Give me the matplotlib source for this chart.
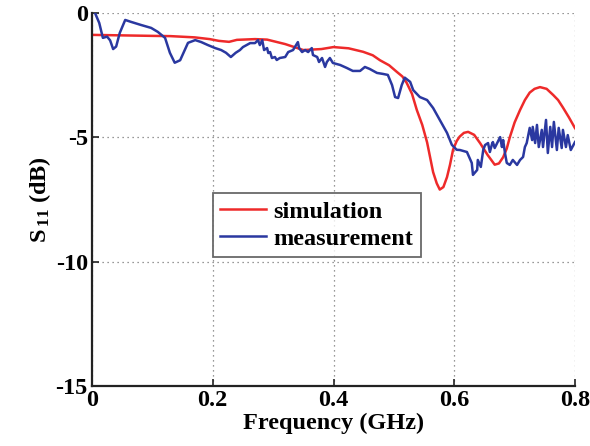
import matplotlib
matplotlib.use("Agg")
import matplotlib.pyplot as plt

# Simulation (red)
sim_f = [0.0, 0.05, 0.10, 0.13, 0.17, 0.195, 0.21, 0.227, 0.24, 0.27, 0.29, 0.32, 0.35, 0.38, 0.40,
         0.425, 0.449, 0.465, 0.477, 0.492, 0.505, 0.514, 0.521, 0.530, 0.538, 0.547, 0.555, 0.560,
         0.565, 0.571, 0.576, 0.582, 0.588, 0.593, 0.598, 0.604, 0.609, 0.616, 0.623, 0.633, 0.643,
         0.655, 0.667, 0.674, 0.681, 0.687, 0.692, 0.70, 0.709, 0.717, 0.725, 0.733, 0.742, 0.753,
         0.764, 0.772, 0.78, 0.79, 0.80]
sim_db = [-0.88, -0.9, -0.92, -0.93, -0.98, -1.05, -1.12, -1.16, -1.08, -1.05, -1.07, -1.25, -1.49, -1.45, -1.37,
          -1.42, -1.56, -1.7, -1.9, -2.1, -2.37, -2.55, -2.8, -3.25, -3.9, -4.5, -5.2, -5.8,
          -6.4, -6.85, -7.1, -7.0, -6.6, -6.1, -5.5, -5.15, -4.97, -4.82, -4.78, -4.9, -5.24,
          -5.7, -6.1, -6.05, -5.8, -5.45, -5.0, -4.4, -3.9, -3.5, -3.2, -3.05, -2.98, -3.05,
          -3.3, -3.5, -3.8, -4.2, -4.63]

# Measurement (blue)
meas_f = [0.005, 0.012, 0.018, 0.025, 0.03, 0.035, 0.04, 0.046, 0.055, 0.065, 0.081, 0.098, 0.109, 0.121,
          0.129, 0.137, 0.146, 0.159, 0.171, 0.181, 0.192, 0.204, 0.214, 0.222, 0.23, 0.238, 0.245,
          0.250, 0.262, 0.270, 0.275, 0.278, 0.282, 0.285, 0.290, 0.292, 0.295, 0.298, 0.303, 0.306,
          0.311, 0.320, 0.325, 0.333, 0.340, 0.341, 0.343, 0.348, 0.353, 0.358, 0.364, 0.366, 0.373,
          0.376, 0.381, 0.386, 0.389, 0.394, 0.399, 0.411, 0.422, 0.432, 0.444, 0.452, 0.46, 0.472,
          0.482, 0.49, 0.497, 0.502, 0.507, 0.513, 0.518, 0.527, 0.532, 0.543, 0.555, 0.565, 0.576,
          0.588, 0.596, 0.604, 0.6095, 0.621, 0.629, 0.631, 0.638, 0.639, 0.644, 0.648, 0.651, 0.656,
          0.659, 0.663, 0.664, 0.667, 0.672, 0.676, 0.679, 0.681, 0.684, 0.687, 0.692, 0.697, 0.704,
          0.709, 0.714, 0.717, 0.720, 0.725, 0.729, 0.730, 0.734, 0.737, 0.740, 0.745, 0.747, 0.752,
          0.755, 0.759, 0.762, 0.765, 0.770, 0.773, 0.778, 0.780, 0.785, 0.788, 0.793, 0.800]
meas_db = [0.0, -0.4, -1.0, -0.95, -1.1, -1.45, -1.35, -0.8, -0.28, -0.36, -0.48, -0.6, -0.76, -1.0,
           -1.6, -2.0, -1.9, -1.2, -1.09, -1.17, -1.29, -1.41, -1.49, -1.6, -1.77, -1.6, -1.49,
           -1.37, -1.21, -1.21, -1.09, -1.29, -1.09, -1.49, -1.41, -1.61, -1.57, -1.81, -1.77, -1.89,
           -1.81, -1.77, -1.57, -1.49, -1.21, -1.17, -1.41, -1.57, -1.49, -1.57, -1.41, -1.69, -1.77,
           -1.97, -1.81, -2.17, -1.97, -1.81, -2.01, -2.09, -2.21, -2.33, -2.33, -2.17, -2.25, -2.41,
           -2.45, -2.49, -2.9, -3.38, -3.42, -2.9, -2.6, -2.77, -3.1, -3.38, -3.5, -3.82, -4.3,
           -4.82, -5.3, -5.5, -5.51, -5.59, -6.03, -6.51, -6.31, -5.91, -6.19, -5.51, -5.31, -5.23,
           -5.59, -5.23, -5.19, -5.43, -5.19, -4.99, -5.39, -5.11, -5.63, -6.03, -6.11, -5.91, -6.11,
           -5.91, -5.79, -5.39, -5.23, -4.62, -5.11, -4.58, -5.23, -4.50, -5.39, -4.70, -5.39, -4.30,
           -5.63, -4.58, -5.39, -4.38, -5.51, -4.62, -5.43, -4.70, -5.39, -4.91, -5.51, -5.19]

xticks = [0, 0.2, 0.4, 0.6, 0.8]
xticklabels = ["0", "0.2", "0.4", "0.6", "0.8"]
yticks = [-15, -10, -5, 0]
yticklabels = ["-15", "-10", "-5", "0"]

plt.rcParams['font.family'] = ['Liberation Serif', 'DejaVu Serif']
plt.rcParams['font.weight'] = 'bold'
plt.rcParams['mathtext.fontset'] = 'custom'
plt.rcParams['mathtext.rm'] = 'Liberation Serif:bold'
plt.rcParams['mathtext.bf'] = 'Liberation Serif:bold'
plt.rcParams['mathtext.default'] = 'bf'
plt.rcParams['axes.unicode_minus'] = False

FS = 17.5

fig = plt.figure(figsize=(5.9, 4.46), dpi=100)
ax = fig.add_axes([92/590, 1 - 386/446, (575-92)/590, (386-13)/446])

ax.plot(sim_f, sim_db, color='#ee2a2a', lw=1.8, label='simulation')
ax.plot(meas_f, meas_db, color='#2a38a0', lw=1.8, label='measurement')

ax.set_xlim(0, 0.8)
ax.set_ylim(-15, 0)
ax.set_xticks(xticks)
ax.set_xticklabels(xticklabels)
ax.set_yticks(yticks)
ax.set_yticklabels(yticklabels)
ax.tick_params(direction='in', labelsize=FS, length=5, width=1.2, color='#222222', pad=3)
for lab in ax.get_xticklabels() + ax.get_yticklabels():
    lab.set_fontweight('bold')
ax.grid(True, linestyle=(0, (1, 3)), color='#777777', lw=0.9)
for side in ['top', 'right']:
    ax.spines[side].set_visible(False)
for side in ['left', 'bottom']:
    ax.spines[side].set_linewidth(1.6)
    ax.spines[side].set_color('#222222')

ax.set_xlabel('Frequency (GHz)', fontsize=FS, fontweight='bold', labelpad=1)
ax.set_ylabel(r'S$_{\,11}$ (dB)', fontsize=FS, fontweight='bold', labelpad=2)

leg = ax.legend(loc='lower left', bbox_to_anchor=(0.25, 0.346), fontsize=FS,
                frameon=True, fancybox=False, handlelength=1.9, borderpad=0.3,
                labelspacing=0.2, handletextpad=0.3, borderaxespad=0)
leg.get_frame().set_edgecolor('#444444')
leg.get_frame().set_linewidth(1.3)
for t in leg.get_texts():
    t.set_fontweight('bold')

fig.savefig('out.png', dpi=100)
